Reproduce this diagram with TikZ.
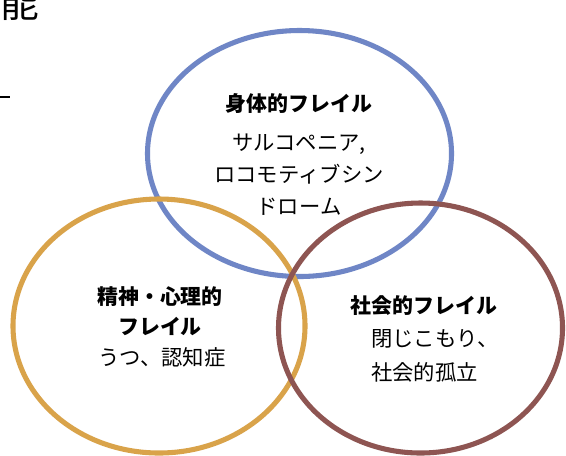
\documentclass[tikz,border=0pt]{standalone}
\usepackage{fontspec}
\setmainfont{Noto Sans CJK JP}
\newfontfamily\jp{Noto Sans CJK JP}
\usetikzlibrary{shapes.geometric}
\definecolor{ringblue}{HTML}{6F86C6}
\definecolor{ringgold}{HTML}{D9A34A}
\definecolor{ringbrown}{HTML}{8E5552}
\tikzset{
  ring/.style={ellipse, line width=3.8pt, inner sep=0pt, fill=none},
  title/.style={font=\jp\bfseries\fontsize{15.7}{22}\selectfont, inner sep=0pt},
  body/.style={font=\jp\fontsize{16}{24}\selectfont, inner sep=0pt, align=center},
}
\begin{document}
\begin{tikzpicture}[x=0.75pt,y=-0.75pt]
\useasboundingbox (0,0) rectangle (566,455);
\fill[white] (0,0) rectangle (566,455);
% rings
\node[ring, draw=ringblue, minimum width=228pt, minimum height=184.5pt] (phys) at (299.5,153.5) {};
\node[ring, draw=ringgold, minimum width=219pt, minimum height=190.5pt] (ment) at (159,326) {};
\node[ring, draw=ringbrown, minimum width=213pt, minimum height=187.5pt] (soc) at (420.5,328) {};
% fragments at top-left (cut by the picture's edge, as in the reference)
\begin{scope}
\clip (0,0) rectangle (566,455);
\node[font=\jp\fontsize{29}{29}\selectfont, inner sep=0pt, anchor=base east] (frag) at (39,17) {能};
\end{scope}
\coordinate (dashA) at (0,97);
\coordinate (dashB) at (10,97);
\draw[line width=2.2pt] (dashA) -- (dashB);
% texts
\node[title] (physT) at (299,104) {身体的フレイル};
\node[body, anchor=north] (physB) at (299,134) {サルコペニア,\\ロコモティブシン\\ドローム};
\node[title, align=center, font=\jp\bfseries\fontsize{15.7}{22.5}\selectfont, anchor=north] (mentT) at (160,286) {精神・心理的\\フレイル};
\node[body] (mentB) at (162,357) {うつ、認知症};
\node[title] (socT) at (424,306) {社会的フレイル};
\node[body, align=left, anchor=north west, font=\jp\fontsize{16}{25.5}\selectfont] (socB) at (371,329) {閉じこもり、\\社会的孤立};
\end{tikzpicture}
\end{document}
